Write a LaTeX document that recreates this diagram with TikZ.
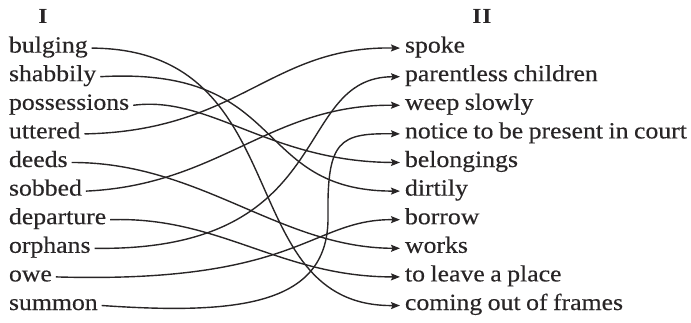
\documentclass[tikz,border=0pt]{standalone}
\usepackage{fontspec}
\setmainfont{Liberation Serif}[FakeStretch=1.11,WordSpace=0.85,FakeBold=0.35]
\newfontfamily\headfont{Liberation Serif Bold}[FakeStretch=1.1]
\usetikzlibrary{arrows.meta}
\definecolor{ink}{RGB}{40,37,38}
\begin{document}
\begin{tikzpicture}[x=1pt,y=-1pt,
  word/.style={inner sep=0pt,outer sep=0pt,text=ink,font=\fontsize{23.2}{28}\selectfont},
  head/.style={inner sep=0pt,text=ink,font=\headfont\fontsize{21.5}{24}\selectfont},
  link/.style={draw=ink,line width=1.4pt},
  arr/.style={link,-{Stealth[length=9pt,width=7pt,inset=1.5pt]}}]
\useasboundingbox (0,0) rectangle (691,322);
\node[head,anchor=base] (h1) at (43,23.5) {I};
\node[head,anchor=base] (h2) at (482,23.5) {I\kern1ptI};
% left column
\node[word,anchor=base west] (l1) at (9,52.6) {bulging};
\node[word,anchor=base west] (l2) at (9,81.2) {shabbily};
\node[word,anchor=base west] (l3) at (9,109.8) {possessions};
\node[word,anchor=base west] (l4) at (9,138.4) {uttered};
\node[word,anchor=base west] (l5) at (9,167.0) {deeds};
\node[word,anchor=base west] (l6) at (9,195.6) {sobbed};
\node[word,anchor=base west] (l7) at (9,224.2) {departure};
\node[word,anchor=base west] (l8) at (9,252.8) {orphans};
\node[word,anchor=base west] (l9) at (9,281.4) {owe};
\node[word,anchor=base west] (l10) at (9,310.0) {summon};
% right column
\node[word,anchor=base west] (r1) at (405,52.6) {spoke};
\node[word,anchor=base west] (r2) at (405,81.2) {parentless children};
\node[word,anchor=base west] (r3) at (405,109.8) {weep slowly};
\node[word,anchor=base west] (r4) at (405,138.4) {notice to be present in court};
\node[word,anchor=base west] (r5) at (405,167.0) {belongings};
\node[word,anchor=base west] (r6) at (405,195.6) {dirtily};
\node[word,anchor=base west] (r7) at (405,224.2) {borrow};
\node[word,anchor=base west] (r8) at (405,252.8) {works};
\node[word,anchor=base west] (r9) at (405,281.4) {to leave a place};
\node[word,anchor=base west] (r10) at (405,310.0) {coming out of frames};
\tikzset{ls/.style={xshift=4pt,yshift=4.5pt}, rs/.style={xshift=-5pt,yshift=4.5pt}}
\draw[arr] ([ls]l1.base east) .. controls (300,49) and (230,307) .. ([rs]r10.base west);
\draw[arr] ([ls]l2.base east) .. controls (290,66) and (250,191) .. ([rs]r6.base west);
\draw[arr] ([ls]l3.base east) .. controls (210,95) and (270,162) .. ([rs]r5.base west);
\draw[arr] ([ls]l4.base east) .. controls (240,131) and (270,46) .. ([rs]r1.base west);
\draw[arr] ([ls]l5.base east) .. controls (200,162) and (280,248) .. ([rs]r8.base west);
\draw[arr] ([ls]l6.base east) .. controls (220,185) and (270,104) .. ([rs]r3.base west);
\draw[arr] ([ls]l7.base east) .. controls (220,216) and (280,277) .. ([rs]r9.base west);
\draw[arr] ([ls]l8.base east) .. controls (340,252) and (290,77) .. ([rs]r2.base west);
\draw[arr] ([ls]l9.base east) .. controls (300,284) and (310,219) .. ([rs]r7.base west);
\draw[arr] ([ls]l10.base east) .. controls (240,315) and (330,305) .. (328,215) .. controls (327,140) and (340,133) .. ([rs]r4.base west);
\end{tikzpicture}
\end{document}
